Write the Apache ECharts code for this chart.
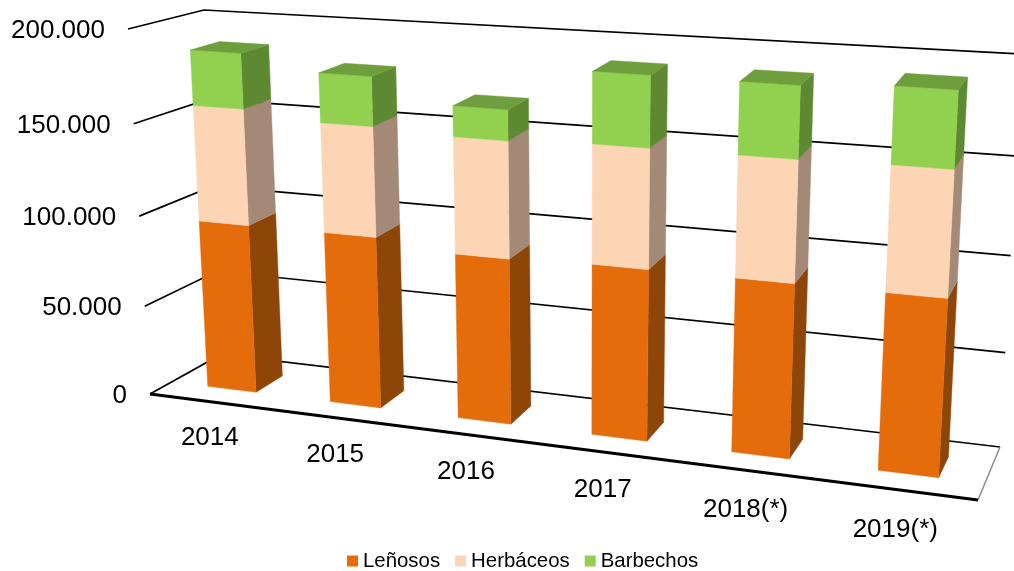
<!DOCTYPE html>
<html>
<head>
<meta charset="utf-8">
<style>html,body{margin:0;padding:0;background:#fff}#c{width:1014px;height:571px}</style>
<script src="https://cdn.jsdelivr.net/npm/echarts@6/dist/echarts.min.js"></script>
</head>
<body>
<div id="c"></div>
<script>
const categories = ['2014','2015','2016','2017','2018(*)','2019(*)'];
const yTicks = [0,50000,100000,150000,200000];
const yTickLabels = ['0','50.000','100.000','150.000','200.000'];
const lenosos   = [94100,94300,89600,91200,91300,91300];
const herbaceos = [63200,59000,61700,62000,62000,63000];
const barbechos = [29700,26200,16100,36400,36100,37800];

// Perspective box of the plot: the front and back planes, as BL, BR, TR, TL
const FRONT = [[150,394],[978,500],[1002,86],[128,29]];
const BACK  = [[221,354.5],[1000,447],[1022,54],[204,10]];
const BAR_W0 = 0.31, BAR_W1 = 0.71, BAR_FRACTION = 0.4, LABEL_DROP = -0.1;
const FONT = '"Liberation Sans", Arial, sans-serif';

function homography(q){
  const [x0,y0]=q[0],[x1,y1]=q[1],[x2,y2]=q[2],[x3,y3]=q[3];
  const dx1=x1-x2,dx2=x3-x2,sx=x0-x1+x2-x3,dy1=y1-y2,dy2=y3-y2,sy=y0-y1+y2-y3;
  const den=dx1*dy2-dx2*dy1;
  const g=(sx*dy2-dx2*sy)/den,h=(dx1*sy-sx*dy1)/den;
  const a=x1-x0+g*x1,b=x3-x0+h*x3,d=y1-y0+g*y1,e=y3-y0+h*y3;
  return (u,v)=>{const k=g*u+h*v+1;return [(a*u+b*v+x0)/k,(d*u+e*v+y0)/k];};
}
const hFront=homography(FRONT),hBack=homography(BACK);
function project(u,v,w){
  const f=hFront(u,v),b=hBack(u,v);
  return [f[0]+(b[0]-f[0])*w,f[1]+(b[1]-f[1])*w];
}
// from the library's scales to normalised box coordinates
function norm(params,api,cat,val){
  const r=params.coordSys,p=api.coord([cat,val]);
  return [(p[0]-r.x)/r.width,1-(p[1]-r.y)/r.height];
}
function poly(points,fill){
  return {type:'polygon',shape:{points},style:{fill,stroke:fill,lineWidth:0.4}};
}
function barRenderer(front,side,top){
  return function(params,api){
    const i=api.value(0),[uc,v0]=norm(params,api,i,api.value(1)),[,v1]=norm(params,api,i,api.value(2));
    const half=api.size([1,0])[0]/params.coordSys.width*BAR_FRACTION/2;
    const ul=uc-half,ur=uc+half;
    const children=[
      poly([project(ur,v0,BAR_W0),project(ur,v0,BAR_W1),project(ur,v1,BAR_W1),project(ur,v1,BAR_W0)],side),
      poly([project(ul,v0,BAR_W0),project(ur,v0,BAR_W0),project(ur,v1,BAR_W0),project(ul,v1,BAR_W0)],front)
    ];
    if(top) children.push(poly([project(ul,v1,BAR_W0),project(ur,v1,BAR_W0),project(ur,v1,BAR_W1),project(ul,v1,BAR_W1)],top));
    return {type:'group',children};
  };
}
function stackData(values,below){
  return values.map((v,i)=>{const s=below.reduce((t,a)=>t+a[i],0);return [i,s,s+v];});
}
const chart=echarts.init(document.getElementById('c'),null,{renderer:'canvas'});
chart.setOption({
  animation:false,
  backgroundColor:'#fff',
  grid:{left:0,right:0,top:0,bottom:0},
  xAxis:{type:'category',data:categories,show:false},
  yAxis:{type:'value',min:0,max:200000,interval:50000,show:false},
  legend:{data:['Leñosos','Herbáceos','Barbechos'],left:342,top:546,icon:'rect',itemWidth:11,itemHeight:11,itemGap:15,
    textStyle:{fontFamily:FONT,fontSize:20.4,color:'#000'}},
  series:[
    {name:'Ejes',type:'custom',coordinateSystem:'cartesian2d',clip:false,z:1,silent:true,
     data:yTicks.map((t,i)=>[0,t,i]),
     renderItem(params,api){
       const [,v]=norm(params,api,0,api.value(1));
       const a=project(0,v,0),b=project(0,v,1),c=project(1,v,1);
       const x=a[0]-23,y=a[1]+2;
       return {type:'group',children:[
         {type:'polyline',shape:{points:[a,b,c]},style:{fill:null,stroke:'#000',lineWidth:1.7}},
         {type:'text',style:{text:yTickLabels[api.value(2)],x,y,align:'right',verticalAlign:'middle',fill:'#000',font:'26px '+FONT}}
       ]};
     }},
    {name:'Suelo',type:'custom',coordinateSystem:'cartesian2d',clip:false,z:1,silent:true,
     data:[[0,0]],
     renderItem(params,api){
       const [,v]=norm(params,api,0,api.value(1));
       return {type:'group',children:[
         {type:'polyline',shape:{points:[project(1,v,0),project(1,v,1)]},style:{fill:null,stroke:'#8c8c8c',lineWidth:1.5}},
         {type:'polyline',shape:{points:[project(0,v,0),project(1,v,0)]},style:{fill:null,stroke:'#000',lineWidth:3.2}}
       ]};
     }},
    {name:'Etiquetas',type:'custom',coordinateSystem:'cartesian2d',clip:false,z:1,silent:true,
     data:categories.map((c,i)=>[i,0]),
     renderItem(params,api){
       const i=api.value(0),[u]=norm(params,api,i,0),p=project(u,LABEL_DROP,0);
       return {type:'text',style:{text:categories[i],x:p[0]-3,y:p[1]+1,align:'center',verticalAlign:'middle',fill:'#000',font:'26px '+FONT}};
     }},
    {name:'Leñosos',type:'custom',coordinateSystem:'cartesian2d',clip:false,z:2,itemStyle:{color:'#E46C0A'},
     data:stackData(lenosos,[]),renderItem:barRenderer('#E46C0A','#8D4608',null)},
    {name:'Herbáceos',type:'custom',coordinateSystem:'cartesian2d',clip:false,z:2,itemStyle:{color:'#FCD5B5'},
     data:stackData(herbaceos,[lenosos]),renderItem:barRenderer('#FCD5B5','#A48A76',null)},
    {name:'Barbechos',type:'custom',coordinateSystem:'cartesian2d',clip:false,z:2,itemStyle:{color:'#92D050'},
     data:stackData(barbechos,[lenosos,herbaceos]),renderItem:barRenderer('#92D050','#5E8933','#6F9E3C')}
  ]
});
</script>
</body>
</html>
